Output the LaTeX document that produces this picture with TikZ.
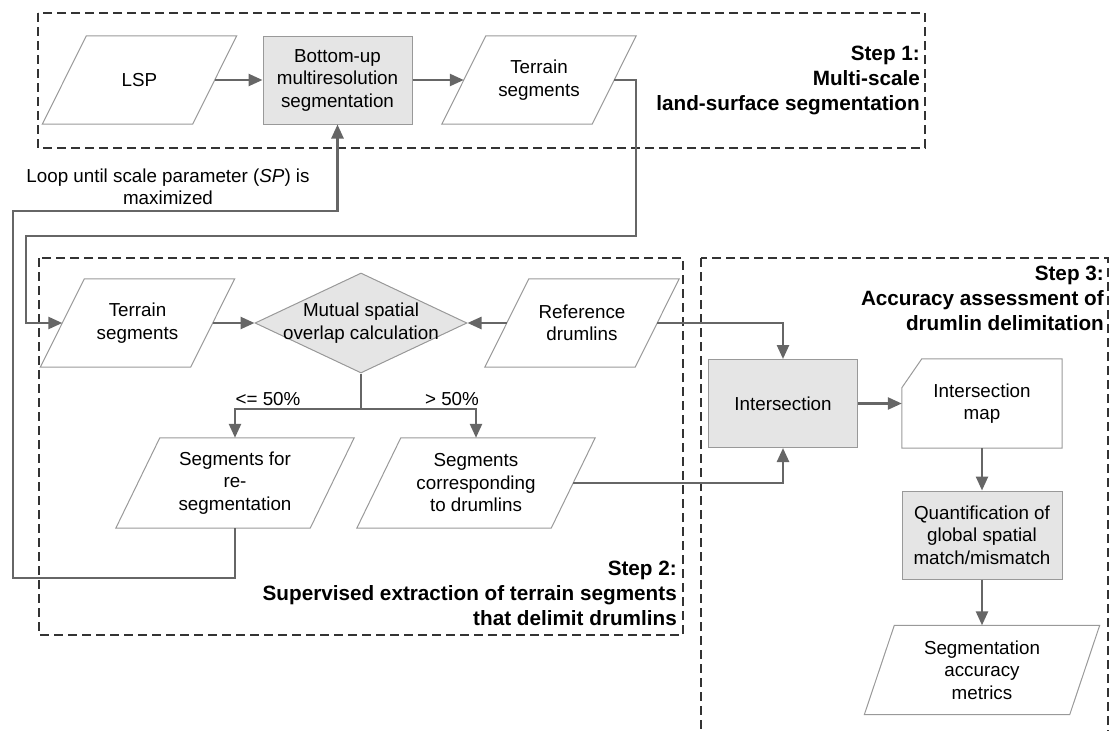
\documentclass[tikz,border=0pt]{standalone}
\usepackage{fontspec}
\setmainfont{Liberation Sans}
\usetikzlibrary{calc, arrows.meta, shapes.geometric}

% slanted outline of a data node (#1 = half of the slant)
\newcommand{\ioshape}[2][22pt]{%
  \draw[outline] ($(#2.north west)+(#1,0pt)$) -- ($(#2.north east)+(#1,0pt)$)
    -- ($(#2.south east)+(-#1,0pt)$) -- ($(#2.south west)+(-#1,0pt)$) -- cycle;}

\begin{document}
\begin{tikzpicture}[x=1pt, y=-1pt,
  every node/.style={font=\fontsize{18.8pt}{22.5pt}\selectfont, inner sep=0pt, align=center},
  outline/.style={draw=black!40, line width=1pt},
  io/.style={minimum width=150pt, minimum height=88pt},
  proc/.style={outline, fill=black!10, minimum width=149pt, minimum height=88pt},
  conn/.style={draw=black!60, line width=2.5pt},
  arr/.style={conn, -{Triangle[length=14pt, width=12pt]}},
  stepbox/.style={draw=black!80, line width=1.5pt, dash pattern=on 9pt off 5pt},
  steptitle/.style={anchor=east, align=right,
    font=\fontsize{20.7pt}{25pt}\selectfont\bfseries}]

  \useasboundingbox (0,0) rectangle (1109,731);
  \clip (0,0) rectangle (1109,731);

  % step frames
  \draw[stepbox] (38,13) rectangle (925,148);
  \draw[stepbox] (39,258) rectangle (683,635);
  \draw[stepbox] (701,258) rectangle (1108,750);

  % step 1
  \node[io] (lsp) at (139.5,80) {LSP};
  \node[proc] (bu) at (337.5,80) {Bottom-up\\multiresolution\\segmentation};
  \node[io] (ts1) at (539,80) {Terrain\\segments};
  \ioshape{lsp}
  \ioshape{ts1}

  % step 2
  \node[io] (ts2) at (137.5,323) {Terrain\\segments};
  \node[diamond, outline, fill=black!10, minimum width=212pt, minimum height=100pt,
    label={[align=center]center:Mutual spatial\\overlap calculation}] (ovl) at (361,323) {};
  \node[io] (ref) at (582,323) {Reference\\drumlins};
  \node[io, minimum width=194pt, minimum height=90pt] (resg) at (235,483)
    {Segments for\\re-\\segmentation};
  \node[io, minimum width=194pt, minimum height=90pt] (corr) at (476,483)
    {Segments\\corresponding\\to drumlins};
  \ioshape{ts2}
  \ioshape{ref}
  \ioshape{resg}
  \ioshape{corr}

  % step 3
  \node[proc] (isect) at (783,403.5) {Intersection};
  \node[minimum width=160pt, minimum height=89pt] (imap) at (982,403.5) {Intersection\\map};
  \draw[outline] (imap.south west) -- (imap.south east) -- (imap.north east)
    -- ($(imap.north west)+(20pt,0pt)$) -- ($(imap.north west)+(0pt,-29pt)$) -- cycle;
  \node[proc, minimum width=160pt] (quant) at (982,535)
    {Quantification of\\global spatial\\match/mismatch};
  \node[io, minimum width=205pt, minimum height=89pt] (metr) at (982,670)
    {Segmentation\\accuracy\\metrics};
  \ioshape[15pt]{metr}

  % titles
  \node[steptitle] (st1) at (920,80) {Step 1:\\Multi-scale\\land-surface segmentation};
  \node[steptitle] (st2) at (677,593)
    {Step 2:\\Supervised extraction of terrain segments\\that delimit drumlins};
  \node[steptitle] (st3) at (1104,298) {Step 3:\\Accuracy assessment of\\drumlin delimitation};

  % flow in step 1
  \draw[arr] (lsp.east) -- (bu.west);
  \draw[arr] (bu.east) -- (ts1.west);

  % segments into step 2
  \coordinate (tsR) at (636,236);
  \coordinate (tsL) at (26,236);
  \draw[arr] (ts1.east) -| (tsR) -- (tsL) |- (ts2.west);
  \draw[arr] (ts2.east) -- (ovl.west);
  \draw[arr] (ref.west) -- (ovl.east);

  % overlap split
  \coordinate (split) at (361,409);
  \draw[conn] (ovl.south) -- (split);
  \draw[arr] (split) -| (resg.north);
  \draw[arr] (split) -| (corr.north);
  \node (le) at (268,399) {<= 50\%};
  \node (gt) at (452,399) {> 50\%};

  % loop back to segmentation
  \coordinate (bk1) at (13,578);
  \coordinate (bk2) at (13,211);
  \draw[arr] (resg.south) |- (bk1) -- (bk2) -| (bu.south);
  \node (loop) at (168,187) {Loop until scale parameter (\textit{SP}) is\\maximized};

  % step 3 flow
  \draw[arr] (ref.east) -| (isect.north);
  \draw[arr] (corr.east) -| (isect.south);
  \draw[arr] (isect.east) -- (imap.west);
  \draw[arr] (imap.south) -- (quant.north);
  \draw[arr] (quant.south) -- (metr.north);
\end{tikzpicture}
\end{document}
